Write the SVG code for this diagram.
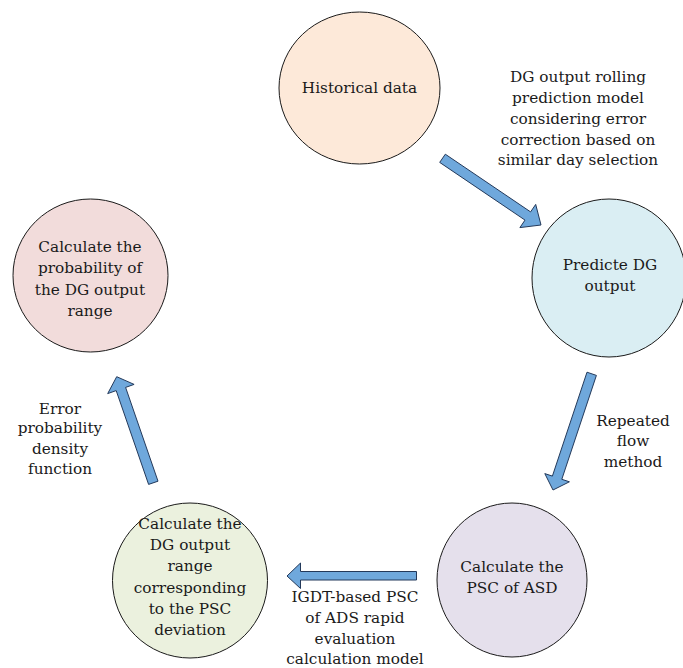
<svg xmlns="http://www.w3.org/2000/svg" width="683" height="668" viewBox="0 0 683 668">
<style>
.node ellipse{stroke:#1a1a1a;stroke-width:1}
text{font-family:"DejaVu Serif","Liberation Serif",serif;font-size:15.3px;fill:#1a1a1a;text-anchor:middle}
.arrow{fill:#6fa8dc;stroke:#23395a;stroke-width:1;stroke-linejoin:miter}
</style>
<rect width="683" height="668" fill="#ffffff"/>
<g id="connectors">
<polygon class="arrow" points="439.7,162.4 445.3,154.2 530.6,211.9 535.7,204.4 541,225 519.9,227.6 525.0,220.1"/>
<polygon class="arrow" points="587.0,372.2 596.4,375.4 561.8,479.3 569.4,481.8 553,490 544.8,473.6 552.4,476.1"/>
<polygon class="arrow" points="416.5,571.5 416.5,580 300.5,580 300.5,588.5 287,576 300.5,563 300.5,571.5"/>
<polygon class="arrow" points="158.0,481.2 148.6,484.4 116.2,390.6 107.7,393.6 116.7,376.7 134.1,384.4 125.6,387.4"/>
<text x="578" y="82">DG output rolling</text>
<text x="578" y="103">prediction model</text>
<text x="578" y="124">considering error</text>
<text x="578" y="145">correction based on</text>
<text x="578" y="165">similar day selection</text>
<text x="633" y="426">Repeated</text>
<text x="633" y="446">flow</text>
<text x="633" y="467">method</text>
<text x="355" y="602">IGDT-based PSC</text>
<text x="355" y="623">of ADS rapid</text>
<text x="355" y="644">evaluation</text>
<text x="355" y="664">calculation model</text>
<text x="60" y="414">Error</text>
<text x="60" y="433">probability</text>
<text x="60" y="454">density</text>
<text x="60" y="474">function</text>
</g>
<g id="historical" class="node">
<ellipse cx="359.5" cy="88" rx="80.5" ry="76" fill="#fde9d9"/>
<text x="359.5" y="93">Historical data</text>
</g>
<g id="predict" class="node">
<ellipse cx="609" cy="278" rx="77" ry="79" fill="#daeef3"/>
<text x="610" y="270">Predicte DG</text>
<text x="610" y="291">output</text>
</g>
<g id="probability" class="node">
<ellipse cx="90.5" cy="275.5" rx="77.5" ry="76.5" fill="#f2dcdb"/>
<text x="90" y="252">Calculate the</text>
<text x="90" y="273">probability of</text>
<text x="90" y="295">the DG output</text>
<text x="90" y="316">range</text>
</g>
<g id="psc" class="node">
<ellipse cx="512" cy="580" rx="75" ry="77" fill="#e5e0ec"/>
<text x="512" y="572">Calculate the</text>
<text x="512" y="593">PSC of ASD</text>
</g>
<g id="range" class="node">
<ellipse cx="190" cy="580.5" rx="77.5" ry="77.5" fill="#ebf1de"/>
<text x="190" y="529">Calculate the</text>
<text x="190" y="550">DG output</text>
<text x="190" y="571">range</text>
<text x="190" y="593">corresponding</text>
<text x="190" y="614">to the PSC</text>
<text x="190" y="635">deviation</text>
</g>
</svg>
